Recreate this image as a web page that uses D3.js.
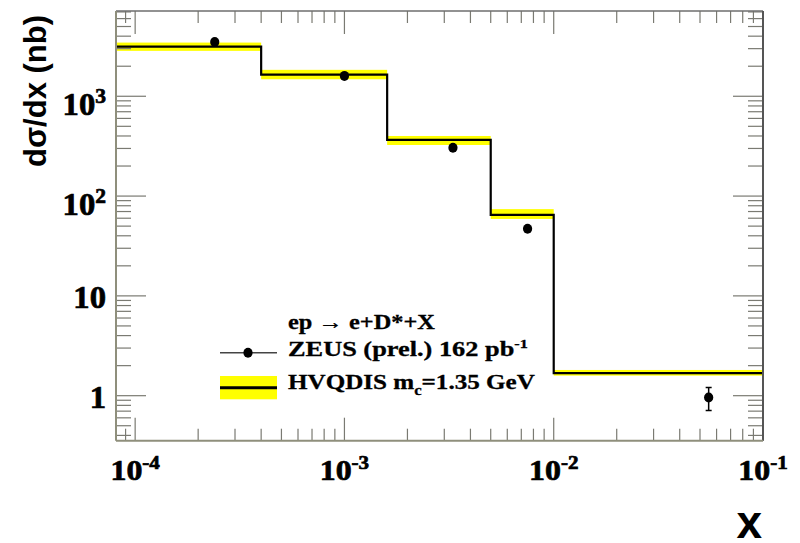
<!DOCTYPE html>
<html>
<head>
<meta charset="utf-8">
<script src="https://cdn.jsdelivr.net/npm/d3@7"></script>
<style>
  body { margin: 0; background: #fff; }
  svg { display: block; }
</style>
</head>
<body>
<svg id="chart" width="800" height="543"></svg>
<script>
// HVQDIS prediction: bin edges in x and the histogram value per bin (nb)
const binEdges   = [8e-5, 4e-4, 1.6e-3, 5e-3, 1e-2, 0.1];
const hvqdis     = [3150, 1650, 365, 64.7, 1.68];
const hvqdisLow  = [2850, 1480, 325, 59, 1.59];
const hvqdisHigh = [3450, 1840, 400, 74, 1.81];

// ZEUS preliminary measurements
const zeusX   = [2.4e-4, 1.0e-3, 3.3e-3, 7.5e-3, 5.5e-2];
const zeusY   = [3500, 1600, 305, 47, 0.96];
const zeusErr = [120, 50, 10, 2, 0.25];

// Axis labels (mantissa, exponent)
const xTickValues = [1e-4, 1e-3, 1e-2, 1e-1];
const xTickLabels = [["10", "-4"], ["10", "-3"], ["10", "-2"], ["10", "-1"]];
const yTickValues = [1, 10, 100, 1000];
const yTickLabels = [["1", null], ["10", null], ["10", "2"], ["10", "3"]];

const svg = d3.select("#chart");
const frameL = 116, frameR = 763, frameT = 11, frameB = 440.7;

const x = d3.scaleLog().domain([8.1e-5, 0.1]).range([frameL, frameR]);
const y = d3.scaleLog().domain([0.354, 7150]).range([frameB, frameT]);

const serif = "Liberation Serif";
const sans = "Liberation Sans";

// clip region for the plot frame
svg.append("defs").append("clipPath").attr("id", "frame")
  .append("rect").attr("x", frameL).attr("y", frameT)
  .attr("width", frameR - frameL).attr("height", frameB - frameT);

const plot = svg.append("g").attr("clip-path", "url(#frame)");

// theory uncertainty band
const bins = hvqdis.map((v, i) => ({
  x0: binEdges[i], x1: binEdges[i + 1], v, lo: hvqdisLow[i], hi: hvqdisHigh[i]
}));
plot.selectAll("rect.band").data(bins).join("rect")
  .attr("class", "band")
  .attr("x", d => x(d.x0))
  .attr("width", d => x(d.x1) - x(d.x0))
  .attr("y", d => y(d.hi))
  .attr("height", d => y(d.lo) - y(d.hi))
  .attr("fill", "#ffff00");

// theory histogram as a step line
const stepPts = [];
bins.forEach(b => { stepPts.push([x(b.x0), y(b.v)]); stepPts.push([x(b.x1), y(b.v)]); });
plot.append("path")
  .attr("d", d3.line()(stepPts))
  .attr("fill", "none").attr("stroke", "#000").attr("stroke-width", 2.2);

// data points with error bars
const pts = zeusX.map((v, i) => ({ x: v, y: zeusY[i], e: zeusErr[i] }));
const pg = plot.append("g");
pg.selectAll("line.err").data(pts).join("line")
  .attr("x1", d => x(d.x)).attr("x2", d => x(d.x))
  .attr("y1", d => y(d.y + d.e)).attr("y2", d => y(d.y - d.e))
  .attr("stroke", "#000").attr("stroke-width", 1.5);
pg.selectAll("line.capT").data(pts).join("line")
  .attr("x1", d => x(d.x) - 3).attr("x2", d => x(d.x) + 3)
  .attr("y1", d => y(d.y + d.e)).attr("y2", d => y(d.y + d.e))
  .attr("stroke", "#000").attr("stroke-width", 1.5);
pg.selectAll("line.capB").data(pts).join("line")
  .attr("x1", d => x(d.x) - 3).attr("x2", d => x(d.x) + 3)
  .attr("y1", d => y(d.y - d.e)).attr("y2", d => y(d.y - d.e))
  .attr("stroke", "#000").attr("stroke-width", 1.5);
pg.selectAll("ellipse").data(pts).join("ellipse")
  .attr("cx", d => x(d.x)).attr("cy", d => y(d.y))
  .attr("rx", 4.6).attr("ry", 5).attr("fill", "#000");

// ticks on all four sides
const isMajor = v => Math.abs(Math.log10(v) - Math.round(Math.log10(v))) < 1e-9;
const tickColor = "#7a7a72";
const xt = x.ticks().filter(v => v >= x.domain()[0] && v <= x.domain()[1]);
const yt = y.ticks().filter(v => v >= y.domain()[0] && v <= y.domain()[1]);
const tg = svg.append("g").attr("stroke", tickColor).attr("stroke-width", 1.2);
xt.forEach(v => {
  const len = isMajor(v) ? 23 : 12;
  tg.append("line").attr("x1", x(v)).attr("x2", x(v)).attr("y1", frameB).attr("y2", frameB - len);
  tg.append("line").attr("x1", x(v)).attr("x2", x(v)).attr("y1", frameT).attr("y2", frameT + len);
});
yt.forEach(v => {
  const len = isMajor(v) ? 30 : 15;
  tg.append("line").attr("x1", frameL).attr("x2", frameL + len).attr("y1", y(v)).attr("y2", y(v));
  tg.append("line").attr("x1", frameR).attr("x2", frameR - len).attr("y1", y(v)).attr("y2", y(v));
});

// frame
svg.append("line").attr("x1", frameL).attr("x2", frameR).attr("y1", frameT).attr("y2", frameT)
  .attr("stroke", "#6e6e6e").attr("stroke-width", 1.5);
svg.append("line").attr("x1", frameR).attr("x2", frameR).attr("y1", frameT).attr("y2", frameB)
  .attr("stroke", "#555").attr("stroke-width", 2);
svg.append("line").attr("x1", frameL).attr("x2", frameL).attr("y1", frameT).attr("y2", frameB)
  .attr("stroke", "#8f8f7c").attr("stroke-width", 2);
svg.append("line").attr("x1", frameL).attr("x2", frameR).attr("y1", frameB).attr("y2", frameB)
  .attr("stroke", "#8f8f7c").attr("stroke-width", 2);

// label helper: heavy serif with a horizontal stretch
function sciText(parent, tx, ty, base, exp, size, anchor, sx, supRaise) {
  const g = parent.append("g").attr("transform", `translate(${tx},${ty}) scale(${sx},1)`);
  const t = g.append("text")
    .attr("text-anchor", anchor)
    .attr("font-family", serif).attr("font-weight", "bold")
    .attr("font-size", size).attr("fill", "#000")
    .attr("stroke", "#000").attr("stroke-width", 0.7);
  t.append("tspan").text(base);
  if (exp) {
    t.append("tspan").attr("font-size", size * 0.66).attr("dy", -supRaise).text(exp);
  }
  return g;
}

const labels = svg.append("g");
xTickValues.forEach((v, i) => {
  const [b, e] = xTickLabels[i];
  sciText(labels, x(v), 480, b, e, 29, "middle", 1.1, 11);
});
yTickValues.forEach((v, i) => {
  const [b, e] = yTickLabels[i];
  sciText(labels, 106, y(v) + (e ? 19 : 12), b, e, 32, "end", 1.02, 12);
});

// axis titles
svg.append("text")
  .attr("transform", `translate(46,91) rotate(-90)`)
  .attr("text-anchor", "middle")
  .attr("font-family", sans).attr("font-weight", "bold").attr("font-size", 31)
  .text("dσ/dx (nb)");
svg.append("text")
  .attr("x", 762).attr("y", 538)
  .attr("text-anchor", "end")
  .attr("font-family", sans).attr("font-weight", "bold").attr("font-size", 46)
  .text("x");

// legend
const lg = svg.append("g");
function fitText(parent, tx, ty, width, parts, size) {
  const g = parent.append("g");
  const t = g.append("text")
    .attr("font-family", serif).attr("font-weight", "bold")
    .attr("font-size", size).attr("fill", "#000")
    .attr("stroke", "#000").attr("stroke-width", 0.3);
  parts.forEach(p => {
    const s = t.append("tspan").text(p.text);
    if (p.size) s.attr("font-size", p.size);
    if (p.dy) s.attr("dy", p.dy);
  });
  const w = t.node().getComputedTextLength();
  g.attr("transform", `translate(${tx},${ty}) scale(${width / w},1)`);
  return g;
}
fitText(lg, 288, 329, 147, [{ text: "ep → e+D*+X" }], 21);

lg.append("line").attr("x1", 220).attr("x2", 277).attr("y1", 352.7).attr("y2", 352.7)
  .attr("stroke", "#444").attr("stroke-width", 1.5);
lg.append("ellipse").attr("cx", 248).attr("cy", 352.7).attr("rx", 4.6).attr("ry", 5).attr("fill", "#000");
fitText(lg, 288, 356, 240, [
  { text: "ZEUS (prel.) 162 pb" },
  { text: "-1", size: 13, dy: -8 }
], 21);

lg.append("rect").attr("x", 220).attr("y", 376).attr("width", 57).attr("height", 23.3).attr("fill", "#ffff00");
lg.append("line").attr("x1", 220).attr("x2", 277).attr("y1", 387.7).attr("y2", 387.7)
  .attr("stroke", "#000").attr("stroke-width", 3);
fitText(lg, 288, 389.3, 247, [
  { text: "HVQDIS m" },
  { text: "c", size: 14, dy: 6 },
  { text: "=1.35 GeV", dy: -6 }
], 21);
</script>
</body>
</html>
